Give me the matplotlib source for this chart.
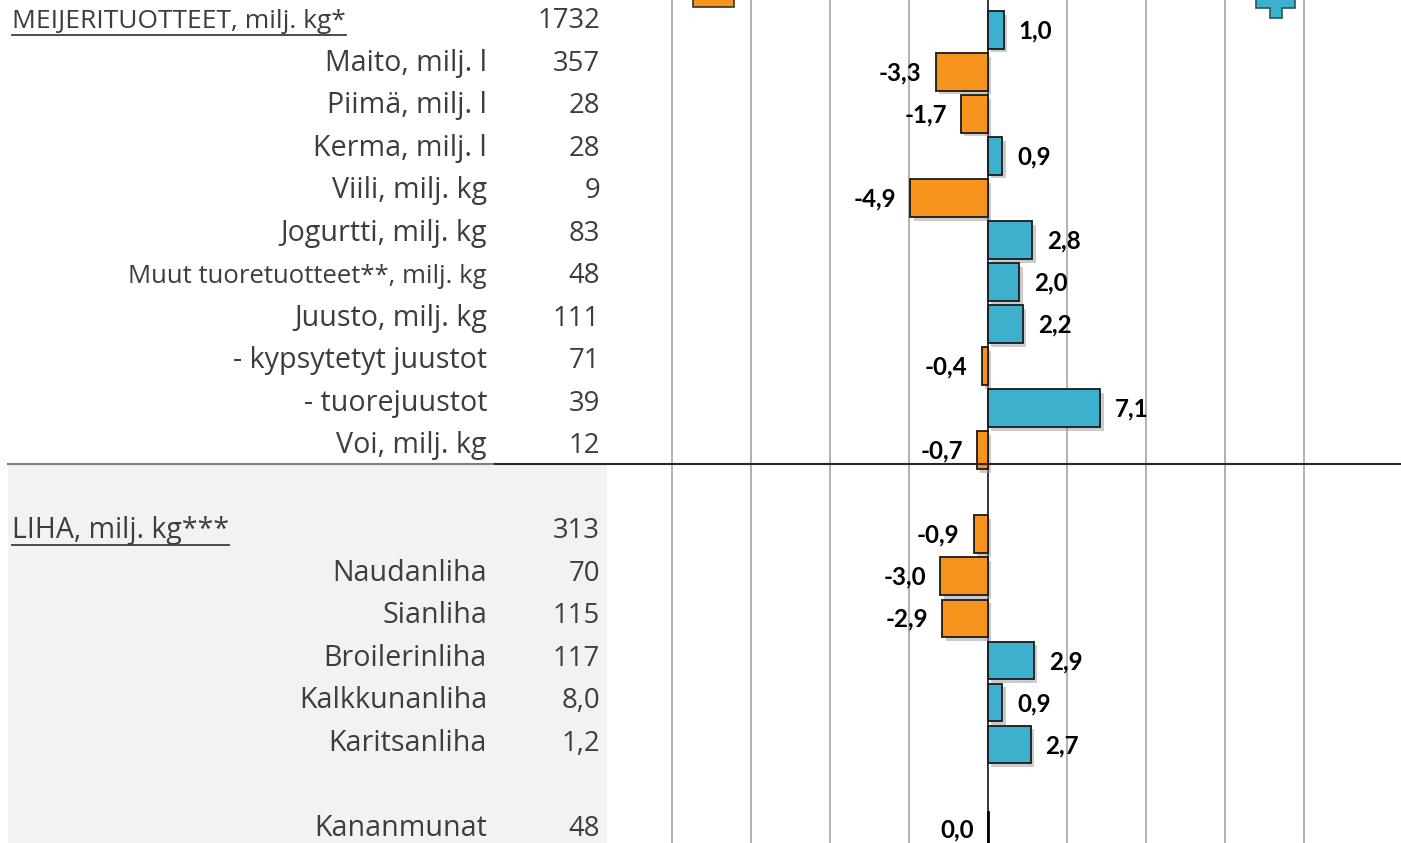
import matplotlib.pyplot as plt
import matplotlib.patheffects as pe
from matplotlib.lines import Line2D
from matplotlib.patches import Rectangle, Polygon
from matplotlib.text import Text

plt.rcParams['font.family'] = ['Open Sans', 'DejaVu Sans']

# rows, top to bottom ("" = empty row)
labels = ["MEIJERITUOTTEET, milj. kg*", "Maito, milj. l", "Piimä, milj. l", "Kerma, milj. l",
          "Viili, milj. kg", "Jogurtti, milj. kg", "Muut tuoretuotteet**, milj. kg",
          "Juusto, milj. kg", "- kypsytetyt juustot", "- tuorejuustot", "Voi, milj. kg", "",
          "LIHA, milj. kg***", "Naudanliha", "Sianliha", "Broilerinliha", "Kalkkunanliha",
          "Karitsanliha", "", "Kananmunat"]
volumes = ["1732", "357", "28", "28", "9", "83", "48", "111", "71", "39", "12", "",
           "313", "70", "115", "117", "8,0", "1,2", "", "48"]
changes = [1.0, -3.3, -1.7, 0.9, -4.9, 2.8, 2.0, 2.2, -0.4, 7.1, -0.7, None,
           -0.9, -3.0, -2.9, 2.9, 0.9, 2.7, None, 0.0]
headers = [0, 12]

W, H = 1401, 843
orange = '#F7941E'
teal = '#3CB0CC'
text_col = '#3d3d3d'

fig = plt.figure(figsize=(W / 100, H / 100), dpi=100)
renderer = fig.canvas.get_renderer()


def fit_size(s, target_px, weight='normal'):
    # font size giving the wanted text width in pixels
    t = Text(0, 0, s, fontsize=10, fontweight=weight)
    t.set_figure(fig)
    w = t.get_window_extent(renderer).width
    return 10 * target_px / w


fs_row = fit_size("Jogurtti, milj. kg", 207)
fs_head = {0: 0.5 * (fit_size(labels[0], 306) + fs_row), 12: fit_size(labels[12], 218)}
fs_muut = fit_size("Muut tuoretuotteet**, milj. kg", 360)
fs_num = fit_size("1732", 63)
fs_val = fit_size("-3,3", 42, 'bold')

# grey background behind the meat table
fig.add_artist(Rectangle((8 / W, 0), (607 - 8) / W, (H - 464) / H,
                         transform=fig.transFigure, facecolor='#f2f2f2',
                         edgecolor='none', zorder=0))

ax = fig.add_axes([607 / W, 0, (W - 607) / W, 1])
ax.set_facecolor('none')
ax.set_xlim(-24.1, 26.14)
ax.set_ylim((843 - 30) / 42.03, -30 / 42.03)
ax.axis('off')

# vertical gridlines
for g in range(-20, 25, 5):
    if g == 0:
        ax.axvline(0, color='black', lw=1.1, zorder=3)
    else:
        ax.axvline(g, color='#a6a6a6', lw=1.2, zorder=1)

shadow = [pe.SimplePatchShadow(offset=(2.5, -2.5), shadow_rgbFace='#999999', alpha=0.5),
          pe.Normal()]

for i, v in enumerate(changes):
    if v is None:
        continue
    col = teal if v > 0 else orange
    if v != 0:
        b = ax.barh(i, v, height=0.9, color=col, edgecolor='#1a1a1a', lw=1.3, zorder=4)
        b[0].set_path_effects(shadow)
    txt = f"{v:.1f}".replace('.', ',')
    if v > 0:
        ax.annotate(txt, (v, i), xytext=(15, -1), textcoords='offset pixels',
                    ha='left', va='center', fontsize=fs_val, fontweight='bold',
                    color='black', family=['Lato', 'DejaVu Sans'])
    else:
        ax.annotate(txt, (v, i), xytext=(-14, -1), textcoords='offset pixels',
                    ha='right', va='center', fontsize=fs_val, fontweight='bold',
                    color='black', family=['Lato', 'DejaVu Sans'])

ax.plot([0, 0], [18.6, 19.6], color='black', lw=2, zorder=5)

# legend-like signs at the top (cropped)
px = lambda x: (x - 988) / 15.8
py = lambda y: (y - 30) / 42.03
ax.add_patch(Polygon([(px(693), py(-5)), (px(734), py(-5)), (px(734), py(7)), (px(693), py(7))],
                     closed=True, facecolor=orange, edgecolor='#333333', lw=1.2, zorder=4))
cx, cy, ah, av, t = 1276, 2, 19.5, 16, 6
plus = [(cx - t, cy - av), (cx + t, cy - av), (cx + t, cy - t), (cx + ah, cy - t),
        (cx + ah, cy + t), (cx + t, cy + t), (cx + t, cy + av), (cx - t, cy + av),
        (cx - t, cy + t), (cx - ah, cy + t), (cx - ah, cy - t), (cx - t, cy - t)]
ax.add_patch(Polygon([(px(x), py(y)) for x, y in plus], closed=True, facecolor=teal,
                     edgecolor='#2a5560', lw=1.2, zorder=4))

# left table texts, rows every 42.53 px starting at 19 px
for i, (lab, vol) in enumerate(zip(labels, volumes)):
    if not lab:
        continue
    yb = 1 - (19 + 42.53 * i + 9) / H
    if i in headers:
        t = fig.text(12 / W, yb, lab, ha='left', va='baseline',
                     fontsize=fs_head[i], color=text_col)
        bb = t.get_window_extent(renderer)
        y0 = yb * H - 7
        fig.add_artist(Line2D([bb.x0 / W, bb.x1 / W], [y0 / H, y0 / H], color=text_col,
                              lw=1.3, transform=fig.transFigure))
    else:
        fs = fs_muut if lab.startswith('Muut') else fs_row
        fig.text(487 / W, yb, lab, ha='right', va='baseline', fontsize=fs, color=text_col)
    fig.text(600 / W, yb, vol, ha='right', va='baseline', fontsize=fs_num, color=text_col)

# separator under the dairy block
ys = 1 - 464 / H
fig.add_artist(Line2D([8 / W, 495 / W], [ys, ys], color='#7f7f7f', lw=1.5,
                      transform=fig.transFigure))
fig.add_artist(Line2D([495 / W, 1], [ys, ys], color='#262626', lw=1.5,
                      transform=fig.transFigure))

fig.savefig('out.png', dpi=100)
